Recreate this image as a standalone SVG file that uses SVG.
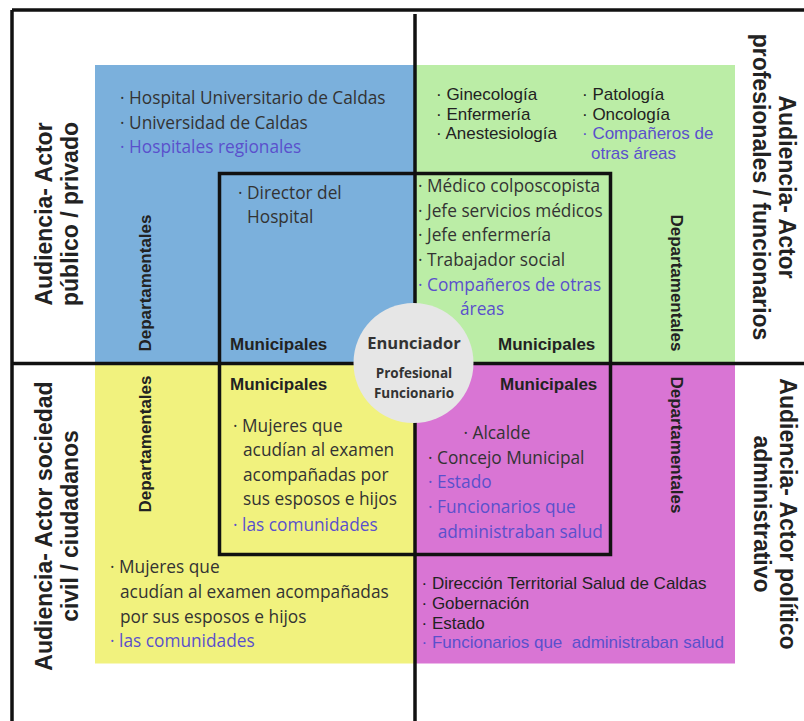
<svg xmlns="http://www.w3.org/2000/svg" width="804" height="721" viewBox="0 0 804 721">
<style>
.os{font-family:"Open Sans","Noto Sans",sans-serif;font-size:17.3px;fill:#333}
.ar{font-family:"Liberation Sans",Arial,sans-serif;font-size:17px;fill:#222}
.bl{fill:#5a50cc}
.mun{font-family:"Liberation Sans",Arial,sans-serif;font-size:17px;font-weight:bold;fill:#222}
.dep{font-family:"Liberation Sans",Arial,sans-serif;font-size:16px;font-weight:bold;fill:#222;text-anchor:middle}
.ttl{font-family:"Liberation Sans",Arial,sans-serif;font-size:23px;font-weight:bold;fill:#222;text-anchor:middle}
.ctr{font-family:"Open Sans","Noto Sans",sans-serif;font-weight:bold;fill:#333;text-anchor:middle}
.ln{stroke:#111;stroke-width:3.5;fill:none}
</style>
<rect width="804" height="721" fill="#fff"/>
<g id="quadrant-publico-privado">
<rect x="95" y="65" width="320" height="298.5" fill="#7bb0dc"/>
</g>
<g id="quadrant-profesionales">
<rect x="415" y="65" width="320" height="298.5" fill="#bbeda6"/>
</g>
<g id="quadrant-sociedad-civil">
<rect x="95" y="363.5" width="320" height="300" fill="#f1f27e"/>
</g>
<g id="quadrant-politico">
<rect x="415" y="363.5" width="320" height="300" fill="#d975d4"/>
</g>
<g id="connectors">
<line class="ln" x1="12" y1="10" x2="804" y2="10" stroke-width="3"/>
<line class="ln" x1="12" y1="10" x2="12" y2="721" stroke-width="3"/>
<line class="ln" x1="415" y1="14" x2="415" y2="721"/>
<line class="ln" x1="12" y1="363.5" x2="804" y2="363.5"/>
<rect class="ln" x="219.5" y="173.5" width="391" height="381" stroke="#222" stroke-width="3"/>
</g>
<g id="enunciador">
<circle cx="413.5" cy="363" r="60" fill="#e6e6e6"/>
<text class="ctr" x="414" y="348.5" font-size="16.5">Enunciador</text>
<text class="ctr" x="414" y="377.5" font-size="13.5">Profesional</text>
<text class="ctr" x="414" y="397.5" font-size="13.5">Funcionario</text>
</g>
<g id="labels-publico-privado">
<text class="ttl" transform="translate(52,214) rotate(-90)">Audiencia- Actor<tspan x="0" dy="26">público / privado</tspan></text>
<text class="os" x="120" y="104">· Hospital Universitario de Caldas</text>
<text class="os" x="120" y="128.7">· Universidad de Caldas</text>
<text class="os bl" x="120" y="153">· Hospitales regionales</text>
<text class="dep" transform="translate(151,283) rotate(-90)" textLength="137" lengthAdjust="spacingAndGlyphs">Departamentales</text>
<text class="os" x="238" y="199.3">· Director del</text>
<text class="os" x="247" y="223.3">Hospital</text>
<text class="mun" x="230" y="350">Municipales</text>
</g>
<g id="labels-profesionales">
<text class="ttl" transform="translate(779,187) rotate(90)">Audiencia- Actor<tspan x="0" dy="26">profesionales / funcionarios</tspan></text>
<text class="ar" x="436" y="100">· Ginecología</text>
<text class="ar" x="436" y="119.5">· Enfermería</text>
<text class="ar" x="436" y="139.3">· Anestesiología</text>
<text class="ar" x="582" y="100">· Patología</text>
<text class="ar" x="582" y="119.5">· Oncología</text>
<text class="ar bl" x="582" y="139.3">· Compañeros de</text>
<text class="ar bl" x="591" y="159">otras áreas</text>
<text class="os" x="418" y="191.7">· Médico colposcopista</text>
<text class="os" x="418" y="216.5">· Jefe servicios médicos</text>
<text class="os" x="418" y="240.8">· Jefe enfermería</text>
<text class="os" x="418" y="266">· Trabajador social</text>
<text class="os bl" x="418" y="290.7">· Compañeros de otras</text>
<text class="os bl" x="460" y="315.3">áreas</text>
<text class="mun" x="498" y="350">Municipales</text>
<text class="dep" transform="translate(671,283) rotate(90)" textLength="137" lengthAdjust="spacingAndGlyphs">Departamentales</text>
</g>
<g id="labels-sociedad-civil">
<text class="ttl" transform="translate(52,526) rotate(-90)">Audiencia- Actor sociedad<tspan x="0" dy="26">civil / ciudadanos</tspan></text>
<text class="dep" transform="translate(151,444) rotate(-90)" textLength="137" lengthAdjust="spacingAndGlyphs">Departamentales</text>
<text class="mun" x="230" y="390">Municipales</text>
<text class="os" x="233" y="431.7">· Mujeres que</text>
<text class="os" x="243" y="456">acudían al examen</text>
<text class="os" x="243" y="480.7">acompañadas por</text>
<text class="os" x="243" y="505">sus esposos e hijos</text>
<text class="os bl" x="233" y="530.7">· las comunidades</text>
<text class="os" x="110" y="573.3">· Mujeres que</text>
<text class="os" x="120" y="598.3">acudían al examen acompañadas</text>
<text class="os" x="120" y="622.7">por sus esposos e hijos</text>
<text class="os bl" x="110" y="647.3">· las comunidades</text>
</g>
<g id="labels-politico">
<text class="ttl" transform="translate(780,514) rotate(90)">Audiencia- Actor político<tspan x="0" dy="26">administrativo</tspan></text>
<text class="mun" x="500" y="390">Municipales</text>
<text class="dep" transform="translate(671,445) rotate(90)" textLength="137" lengthAdjust="spacingAndGlyphs">Departamentales</text>
<text class="os" x="463.5" y="439">· Alcalde</text>
<text class="os" x="428" y="464">· Concejo Municipal</text>
<text class="os bl" x="428" y="488.3">· Estado</text>
<text class="os bl" x="428" y="513.3">· Funcionarios que</text>
<text class="os bl" x="437.7" y="537.7">administraban salud</text>
<text class="ar" x="421.5" y="589.3">· Dirección Territorial Salud de Caldas</text>
<text class="ar" x="421.5" y="609.3">· Gobernación</text>
<text class="ar" x="421.5" y="629.3">· Estado</text>
<text class="ar bl" x="421.5" y="648.3" xml:space="preserve">· Funcionarios que  administraban salud</text>
</g>
</svg>
